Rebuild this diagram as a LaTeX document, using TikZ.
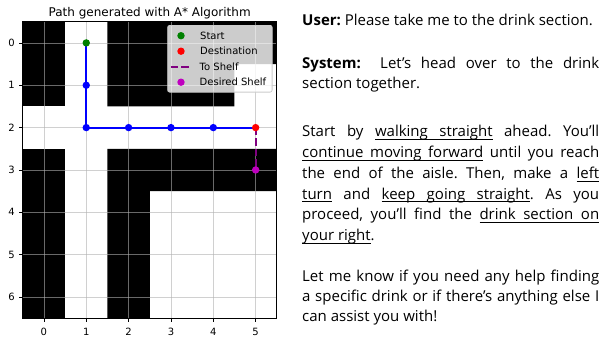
\documentclass[tikz,border=0pt]{standalone}
\usepackage{fontspec}
\usetikzlibrary{positioning}
\setmainfont{Open Sans}
\newfontfamily\plotfont{DejaVu Sans}
\definecolor{mplblue}{RGB}{0,0,255}
\definecolor{mplgreen}{RGB}{0,128,0}
\definecolor{mplred}{RGB}{255,0,0}
\definecolor{mplpurple}{RGB}{128,0,128}
\definecolor{mplmagenta}{RGB}{191,0,191}
\definecolor{gridgray}{HTML}{B0B0B0}
\definecolor{legendedge}{HTML}{CCCCCC}

% underlined word and underlined stretchable space
\newcommand\uw[1]{\leavevmode\setbox0\hbox{#1}\rlap{\rule[-3pt]{\wd0}{0.8pt}}\box0\relax}
\newcommand\usp{\leaders\hrule height -2.2pt depth 3pt\hskip\fontdimen2\font plus\fontdimen3\font minus\fontdimen4\font\relax}

\tikzset{
  gridline/.style={draw=gridgray, line width=0.8pt, draw opacity=0.6},
  axisline/.style={draw=black, line width=0.8pt},
  ticklabel/.style={font=\fontsize{10}{12}\plotfont, inner sep=0pt},
  dot/.style={circle, inner sep=0pt, minimum size=7.4pt, draw=none},
  route/.style={draw=mplblue, line width=2.2pt},
  toshelf/.style={draw=mplpurple, line width=2pt, dash pattern=on 7.4pt off 3.2pt},
  legendbox/.style={draw=legendedge, fill=white, fill opacity=0.8, rounded corners=2pt, line width=0.8pt, inner sep=0pt},
  legendtext/.style={font=\fontsize{10}{12}\plotfont, anchor=west, inner sep=0pt},
  dialog/.style={anchor=base west, inner sep=0pt, text width=297pt, align=justify,
    font=\fontsize{15}{#1}\selectfont\frenchspacing},
  dialog/.default=20.8pt
}

\begin{document}
\begin{tikzpicture}[x=1pt, y=-1pt]
  \useasboundingbox (0,0) rectangle (601,338);

  %% Title
  \node[font=\fontsize{12}{14}\plotfont, anchor=base, inner sep=0pt] (title) at (149.7,16)
    {Path generated with A* Algorithm};

  %% Map, one unit per cell
  \begin{scope}[shift={(43.9,42.9)}, x=42.35pt, y=-42.35pt]
    %% Shelves
    \fill[black] (-0.5,-0.5) rectangle (0.5,1.5);
    \fill[black] (-0.5,2.5) rectangle (0.5,6.5);
    \fill[black] (1.5,-0.5) -- (5.5,-0.5) -- (5.5,0.5) -- (4.5,0.5) -- (4.5,1.5) -- (1.5,1.5) -- cycle;
    \fill[black] (1.5,2.5) -- (5.5,2.5) -- (5.5,3.5) -- (2.5,3.5) -- (2.5,6.5) -- (1.5,6.5) -- cycle;

    %% Grid
    \foreach \i in {0,...,5}
      \draw[gridline] (\i,-0.5) -- (\i,6.5);
    \foreach \j in {0,...,6}
      \draw[gridline] (-0.5,\j) -- (5.5,\j);

    %% Frame and ticks
    \draw[axisline] (-0.5,-0.5) rectangle (5.5,6.5);
    \foreach \i in {0,...,5}{
      \draw[axisline] (\i,6.5) -- ++(0,-3.5pt);
      \node[ticklabel, anchor=north] (xt\i) at ([yshift=-9.4pt]\i,6.5) {\i};
    }
    \foreach \j in {0,...,6}{
      \draw[axisline] (-0.5,\j) -- ++(-3.5pt,0);
      \node[ticklabel, anchor=east] (yt\j) at ([xshift=-7.7pt]-0.5,\j) {\j};
    }

    %% Path
    \coordinate (start) at (1,0);
    \coordinate (w1) at (1,1);
    \coordinate (w2) at (1,2);
    \coordinate (w3) at (2,2);
    \coordinate (w4) at (3,2);
    \coordinate (w5) at (4,2);
    \coordinate (dest) at (5,2);
    \coordinate (shelf) at (5,3);
    \draw[route] (start) -- (w1) -- (w2) -- (w3) -- (w4) -- (w5) -- (dest);
    \foreach \p in {1,...,5}
      \node[dot, fill=mplblue] (m\p) at (w\p) {};
    \draw[toshelf] (dest) -- (shelf);
    \node[dot, fill=mplgreen] (mstart) at (start) {};
    \node[dot, fill=mplred] (mdest) at (dest) {};
    \node[dot, fill=mplmagenta] (mshelf) at (shelf) {};
  \end{scope}

  %% Legend
  \node[legendbox, minimum width=104.4pt, minimum height=66.7pt, anchor=north west] (legend) at (167.3,25) {};
  \node[dot, fill=mplgreen] (kstart) at (181,35.7) {};
  \node[legendtext] (lstart) at (200,35.7) {Start};
  \node[dot, fill=mplred] (kdest) at (181,51.2) {};
  \node[legendtext] (ldest) at (200,51.2) {Destination};
  \coordinate (ka) at (170.5,66.7);
  \coordinate (kb) at (191.5,66.7);
  \draw[toshelf] (ka) -- (kb);
  \node[legendtext] (lshelf) at (199.5,66.7) {To Shelf};
  \node[dot, fill=mplmagenta] (kshelf) at (181,82.2) {};
  \node[legendtext] (ldesired) at (199.5,82.2) {Desired Shelf};

  %% Dialogue
  \node[dialog] (user) at (302,25.7)
    {\textbf{User:} Please take me to the drink section.};
  \node[dialog=20.5pt] (system) at (302,68.3)
    {\textbf{System:}\ \ Let’s head over to the drink\linebreak section together.};
  \node[dialog] (route) at (302,136.7)
    {Start by \uw{walking}\usp\uw{straight} ahead. You’ll\linebreak
    \uw{continue}\usp\uw{moving}\usp\uw{forward} until you reach\linebreak
    the end of the aisle. Then, make a \uw{left}\linebreak
    \uw{turn} and \uw{keep}\usp\uw{going}\usp\uw{straight}. As you\linebreak
    proceed, you’ll find the \uw{drink}\usp\uw{section}\usp\uw{on}\linebreak
    \uw{your}\usp\uw{right}.};
  \node[dialog=20pt] (offer) at (302,281.7)
    {Let me know if you need any help finding\linebreak
    a specific drink or if there’s anything else I\linebreak
    can assist you with!};
\end{tikzpicture}
\end{document}
